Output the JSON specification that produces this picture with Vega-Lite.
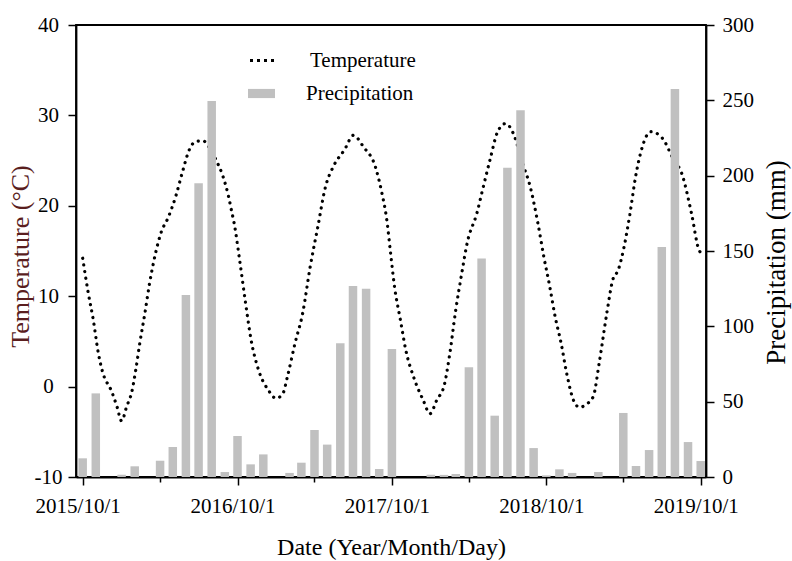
{
  "$schema": "https://vega.github.io/schema/vega-lite/v6.json",
  "width": 630,
  "height": 452,
  "autosize": {"type": "none"},
  "padding": {"left": 76, "top": 25, "right": 86, "bottom": 84},
  "background": "white",
  "config": {
    "font": "Liberation Serif",
    "view": {"stroke": "black", "strokeWidth": 1.8},
    "axis": {
      "grid": false,
      "domainColor": "black",
      "domainWidth": 1.8,
      "tickColor": "black",
      "tickWidth": 1.5,
      "tickSize": 8,
      "labelColor": "black",
      "labelFont": "Liberation Serif",
      "labelFontSize": 21,
      "titleFont": "Liberation Serif",
      "titleFontWeight": "normal",
      "titleColor": "black"
    },
    "legend": {
      "title": null,
      "orient": "none",
      "padding": 0,
      "labelFont": "Liberation Serif",
      "labelFontSize": 21,
      "labelColor": "black",
      "labelOffset": 31
    }
  },
  "datasets": {
    "temp": [
      {"date": "2015-10-01", "temp": 14.2},
      {"date": "2015-10-14", "temp": 10.4},
      {"date": "2015-10-26", "temp": 7.4},
      {"date": "2015-11-07", "temp": 3.7},
      {"date": "2015-11-16", "temp": 1.8},
      {"date": "2015-12-09", "temp": -0.6},
      {"date": "2015-12-21", "temp": -2.2},
      {"date": "2016-01-01", "temp": -3.8},
      {"date": "2016-01-13", "temp": -2.2},
      {"date": "2016-01-25", "temp": -0.6},
      {"date": "2016-02-04", "temp": 2.0},
      {"date": "2016-02-13", "temp": 4.8},
      {"date": "2016-02-25", "temp": 8.1},
      {"date": "2016-03-07", "temp": 11.4},
      {"date": "2016-03-21", "temp": 14.7},
      {"date": "2016-04-03", "temp": 17.0},
      {"date": "2016-04-21", "temp": 18.8},
      {"date": "2016-05-09", "temp": 21.2},
      {"date": "2016-05-23", "temp": 23.6},
      {"date": "2016-06-10", "temp": 26.3},
      {"date": "2016-06-24", "temp": 27.1},
      {"date": "2016-07-11", "temp": 27.2},
      {"date": "2016-07-27", "temp": 26.4},
      {"date": "2016-08-12", "temp": 25.0},
      {"date": "2016-08-28", "temp": 23.2},
      {"date": "2016-09-10", "temp": 21.0},
      {"date": "2016-09-18", "temp": 19.2},
      {"date": "2016-09-23", "temp": 18.1},
      {"date": "2016-10-06", "temp": 14.0},
      {"date": "2016-10-19", "temp": 9.6},
      {"date": "2016-11-02", "temp": 5.2},
      {"date": "2016-11-20", "temp": 1.8},
      {"date": "2016-12-13", "temp": -0.4},
      {"date": "2016-12-31", "temp": -1.3},
      {"date": "2017-01-16", "temp": -0.8},
      {"date": "2017-01-27", "temp": 1.1},
      {"date": "2017-02-14", "temp": 4.8},
      {"date": "2017-03-04", "temp": 8.1},
      {"date": "2017-03-22", "temp": 13.3},
      {"date": "2017-04-09", "temp": 17.7},
      {"date": "2017-04-27", "temp": 22.1},
      {"date": "2017-05-15", "temp": 24.3},
      {"date": "2017-06-11", "temp": 26.2},
      {"date": "2017-07-02", "temp": 27.8},
      {"date": "2017-07-26", "temp": 26.5},
      {"date": "2017-08-23", "temp": 24.3},
      {"date": "2017-09-06", "temp": 21.7},
      {"date": "2017-09-19", "temp": 18.4},
      {"date": "2017-09-28", "temp": 14.7},
      {"date": "2017-10-07", "temp": 11.1},
      {"date": "2017-10-21", "temp": 7.4},
      {"date": "2017-11-03", "temp": 4.0},
      {"date": "2017-11-21", "temp": 1.1},
      {"date": "2017-12-14", "temp": -1.5},
      {"date": "2017-12-30", "temp": -3.0},
      {"date": "2018-01-15", "temp": -1.5},
      {"date": "2018-02-02", "temp": 0.2},
      {"date": "2018-02-15", "temp": 3.7},
      {"date": "2018-03-01", "temp": 8.5},
      {"date": "2018-03-15", "temp": 12.5},
      {"date": "2018-03-28", "temp": 15.9},
      {"date": "2018-04-20", "temp": 19.2},
      {"date": "2018-05-03", "temp": 21.7},
      {"date": "2018-05-21", "temp": 25.1},
      {"date": "2018-06-08", "temp": 28.2},
      {"date": "2018-06-27", "temp": 29.1},
      {"date": "2018-07-15", "temp": 28.0},
      {"date": "2018-08-06", "temp": 24.7},
      {"date": "2018-08-24", "temp": 22.1},
      {"date": "2018-09-11", "temp": 18.1},
      {"date": "2018-09-25", "temp": 14.4},
      {"date": "2018-10-09", "temp": 11.1},
      {"date": "2018-10-22", "temp": 7.7},
      {"date": "2018-11-05", "temp": 4.8},
      {"date": "2018-11-18", "temp": 1.5},
      {"date": "2018-12-06", "temp": -1.7},
      {"date": "2018-12-19", "temp": -2.3},
      {"date": "2019-01-02", "temp": -2.0},
      {"date": "2019-01-20", "temp": -1.1},
      {"date": "2019-02-03", "temp": 2.6},
      {"date": "2019-02-21", "temp": 8.1},
      {"date": "2019-03-07", "temp": 11.8},
      {"date": "2019-03-20", "temp": 12.9},
      {"date": "2019-04-03", "temp": 15.5},
      {"date": "2019-04-17", "temp": 19.2},
      {"date": "2019-04-30", "temp": 23.2},
      {"date": "2019-05-14", "temp": 26.2},
      {"date": "2019-06-05", "temp": 28.2},
      {"date": "2019-07-02", "temp": 27.5},
      {"date": "2019-07-29", "temp": 25.1},
      {"date": "2019-08-17", "temp": 23.6},
      {"date": "2019-09-09", "temp": 19.2},
      {"date": "2019-09-27", "temp": 15.1},
      {"date": "2019-10-01", "temp": 14.8}
    ],
    "precip": [
      {"date": "2015-10-01", "precip": 12.4},
      {"date": "2015-11-01", "precip": 55.5},
      {"date": "2015-12-01", "precip": 0},
      {"date": "2016-01-01", "precip": 1.5},
      {"date": "2016-02-01", "precip": 7.1},
      {"date": "2016-03-01", "precip": 0},
      {"date": "2016-04-01", "precip": 10.8},
      {"date": "2016-05-01", "precip": 19.9},
      {"date": "2016-06-01", "precip": 120.8},
      {"date": "2016-07-01", "precip": 195},
      {"date": "2016-08-01", "precip": 249.5},
      {"date": "2016-09-01", "precip": 3.3},
      {"date": "2016-10-01", "precip": 27.2},
      {"date": "2016-11-01", "precip": 8.4},
      {"date": "2016-12-01", "precip": 15},
      {"date": "2017-01-01", "precip": 0},
      {"date": "2017-02-01", "precip": 2.7},
      {"date": "2017-03-01", "precip": 9.5},
      {"date": "2017-04-01", "precip": 31.2},
      {"date": "2017-05-01", "precip": 21.5},
      {"date": "2017-06-01", "precip": 88.8},
      {"date": "2017-07-01", "precip": 126.7},
      {"date": "2017-08-01", "precip": 125},
      {"date": "2017-09-01", "precip": 5.3},
      {"date": "2017-10-01", "precip": 85},
      {"date": "2017-11-01", "precip": 0},
      {"date": "2017-12-01", "precip": 0},
      {"date": "2018-01-01", "precip": 1.5},
      {"date": "2018-02-01", "precip": 1.4},
      {"date": "2018-03-01", "precip": 2.0},
      {"date": "2018-04-01", "precip": 72.8},
      {"date": "2018-05-01", "precip": 145.1},
      {"date": "2018-06-01", "precip": 40.7},
      {"date": "2018-07-01", "precip": 205.3},
      {"date": "2018-08-01", "precip": 243.5},
      {"date": "2018-09-01", "precip": 19.2},
      {"date": "2018-10-01", "precip": 1.1},
      {"date": "2018-11-01", "precip": 5.1},
      {"date": "2018-12-01", "precip": 2.7},
      {"date": "2019-01-01", "precip": 0},
      {"date": "2019-02-01", "precip": 3.3},
      {"date": "2019-03-01", "precip": 0},
      {"date": "2019-04-01", "precip": 42.5},
      {"date": "2019-05-01", "precip": 7.3},
      {"date": "2019-06-01", "precip": 17.9},
      {"date": "2019-07-01", "precip": 152.6},
      {"date": "2019-08-01", "precip": 257.5},
      {"date": "2019-09-01", "precip": 23.2},
      {"date": "2019-10-01", "precip": 10.6}
    ]
  },
  "encoding": {
    "x": {
      "field": "date",
      "type": "temporal",
      "scale": {
        "type": "utc",
        "padding": 0,
        "domain": [
          {"year": 2015, "month": 9, "date": 15, "hours": 5, "utc": true},
          {"year": 2019, "month": 10, "date": 13, "hours": 12, "utc": true}
        ]
      },
      "axis": {
        "title": "Date (Year/Month/Day)",
        "titleFont": "Liberation Serif",
        "titleFontSize": 24,
        "titlePadding": 19,
        "labelFont": "Liberation Serif",
        "labelFontSize": 21,
        "labelPadding": 10,
        "labelOffset": -5,
        "labelOverlap": false,
        "labelFlush": false,
        "values": [
          {"year": 2015, "month": 10, "date": 1, "utc": true},
          {"year": 2016, "month": 4, "date": 1, "utc": true},
          {"year": 2016, "month": 10, "date": 1, "utc": true},
          {"year": 2017, "month": 4, "date": 1, "utc": true},
          {"year": 2017, "month": 10, "date": 1, "utc": true},
          {"year": 2018, "month": 4, "date": 1, "utc": true},
          {"year": 2018, "month": 10, "date": 1, "utc": true},
          {"year": 2019, "month": 4, "date": 1, "utc": true},
          {"year": 2019, "month": 10, "date": 1, "utc": true}
        ],
        "labelExpr": "utcmonth(datum.value) == 9 ? utcFormat(datum.value, '%Y/%-m/%-d') : ''",
        "tickSize": {"condition": {"test": "utcmonth(datum.value) == 3", "value": 5}, "value": 8}
      }
    }
  },
  "layer": [
    {
      "data": {"name": "temp"},
      "mark": {"type": "line", "strokeWidth": 3.2, "interpolate": "monotone", "strokeDash": [0.1, 6.6], "strokeCap": "round"},
      "encoding": {
        "y": {
          "field": "temp",
          "type": "quantitative",
          "scale": {"domain": [-10, 40], "nice": false, "zero": false},
          "axis": {
            "orient": "left",
            "values": [-10, 0, 10, 20, 30, 40],
            "labelExpr": "datum.value < 0 ? '-' + abs(datum.value) : '' + datum.value",
            "labelAlign": "center",
            "labelPadding": 20,
            "title": "Temperature (°C)",
            "titleFont": "Liberation Serif",
            "titleColor": "#5a1e1e",
            "titleFontSize": 26,
            "titlePadding": 1,
            "titleY": 231,
            "labelFont": "Liberation Serif",
            "labelFontSize": 21
          }
        },
        "stroke": {
          "datum": "Temperature",
          "type": "nominal",
          "scale": {"domain": ["Temperature"], "range": ["black"]},
          "legend": {
            "legendX": 172,
            "legendY": 20,
            "symbolType": "stroke",
            "symbolSize": 729,
            "symbolStrokeWidth": 3.2,
            "symbolDash": [3, 4]
          }
        }
      }
    },
    {
      "data": {"name": "precip"},
      "mark": {"type": "bar", "size": 8.5},
      "encoding": {
        "y": {
          "field": "precip",
          "type": "quantitative",
          "scale": {"domain": [0, 300], "nice": false},
          "axis": {
            "orient": "right",
            "values": [0, 50, 100, 150, 200, 250, 300],
            "title": "Precipitation (mm)",
            "titleFont": "Liberation Serif",
            "titleFontSize": 27,
            "titleAngle": 270,
            "titleBaseline": "top",
            "titlePadding": 10,
            "titleY": 237,
            "labelFont": "Liberation Serif",
            "labelFontSize": 21,
            "labelPadding": 8
          }
        },
        "fill": {
          "datum": "Precipitation",
          "type": "nominal",
          "scale": {"domain": ["Precipitation"], "range": ["#c0c0c0"]},
          "legend": {
            "legendX": 172,
            "legendY": 55,
            "symbolType": "M-1,-0.34H1V0.34H-1Z",
            "symbolSize": 729,
            "symbolStrokeWidth": 0
          }
        }
      }
    }
  ],
  "resolve": {"scale": {"y": "independent"}}
}
